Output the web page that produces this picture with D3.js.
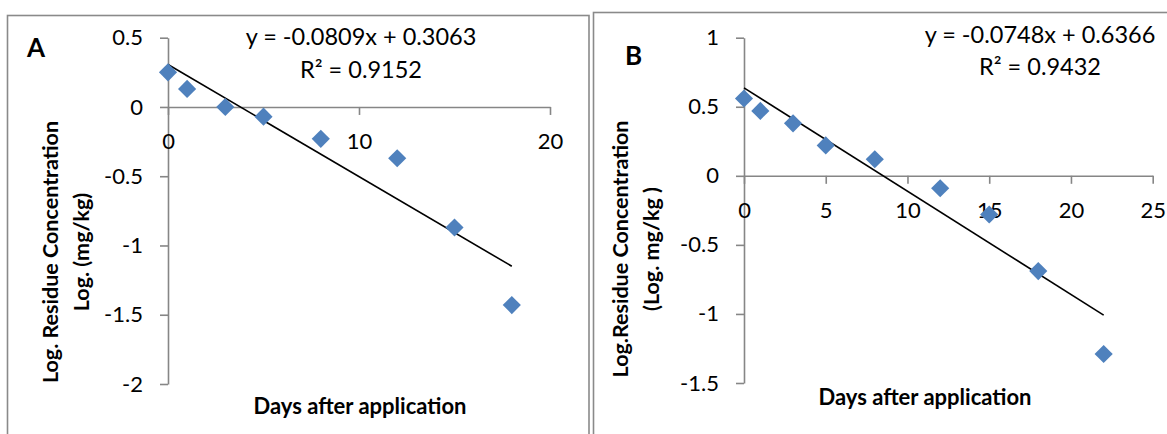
<html>
<meta charset="utf-8" />
<head>
<title>Log residue vs days</title>
<script src="https://cdn.jsdelivr.net/npm/d3@7"></script>
<style>
	body { margin: 0; background: #fff; }
	svg { display: block; font-family: Lato, 'Open Sans', sans-serif; }
</style>
<script>
// panel A
const daysA = [0, 1, 3, 5, 8, 12, 15, 18];
const logResA = [0.25, 0.13, 0.0, -0.07, -0.23, -0.37, -0.87, -1.43];
const trendA = [-0.0809, 0.3063];
const eqA = ['y = -0.0809x + 0.3063', 'R² = 0.9152'];
const xTicksA = [0, 10, 20];
const yTicksA = [0.5, 0, -0.5, -1, -1.5, -2];
const yTitleA = ['Log. Residue Concentration', 'Log. (mg/kg)'];

// panel B
const daysB = [0, 1, 3, 5, 8, 12, 15, 18, 22];
const logResB = [0.56, 0.47, 0.38, 0.22, 0.12, -0.09, -0.28, -0.69, -1.29];
const trendB = [-0.0748, 0.6366];
const eqB = ['y = -0.0748x + 0.6366', 'R² = 0.9432'];
const xTicksB = [0, 5, 10, 15, 20, 25];
const yTicksB = [1, 0.5, 0, -0.5, -1, -1.5];
const yTitleB = ['Log.Residue Concentration', '(Log. mg/kg )'];

const xTitle = 'Days after application';

window.onload = function() {
	const svg = d3.select('svg');

	// frames round the two panels (bottom runs off the picture)
	svg.append('rect').attr('x', 7.5).attr('y', 15.5).attr('width', 581.5).attr('height', 440)
		.attr('fill', 'none').attr('stroke', '#8a8a8a').attr('stroke-width', 1.6);
	svg.append('rect').attr('x', 593.5).attr('y', 12.5).attr('width', 600).attr('height', 440)
		.attr('fill', 'none').attr('stroke', '#8a8a8a').attr('stroke-width', 1.6);

	drawPanel({
		letter: 'A', letterPos: [27, 57],
		days: daysA, res: logResA, trend: trendA, eq: eqA, eqPos: [361, 45, 78],
		xTicks: xTicksA, yTicks: yTicksA,
		xRange: [168, 550], yRange: [37.7, 384],
		yTitle: yTitleA, yTitlePos: [58, 89, 252], xTitlePos: [360, 414]
	});
	drawPanel({
		letter: 'B', letterPos: [625, 65],
		days: daysB, res: logResB, trend: trendB, eq: eqB, eqPos: [1040, 43, 75],
		xTicks: xTicksB, yTicks: yTicksB,
		xRange: [744, 1152.7], yRange: [37.7, 383],
		yTitle: yTitleB, yTitlePos: [628, 659, 249], xTitlePos: [925, 405]
	});

	function drawPanel(p) {
		const g = svg.append('g');
		const x = d3.scaleLinear().domain(d3.extent(p.xTicks)).range(p.xRange);
		const y = d3.scaleLinear().domain(d3.extent(p.yTicks)).range([p.yRange[1], p.yRange[0]]);
		const fmt = d => String(d);   // plain hyphen minus, like Excel

		// y axis, ticks pointing left
		const yAxis = d3.axisLeft(y).tickValues(p.yTicks).tickSize(8).tickSizeOuter(0).tickPadding(17)
			.tickFormat(fmt);
		const gy = g.append('g').attr('transform', `translate(${x(0)},0)`).call(yAxis);

		// x axis sits on y = 0, ticks hanging down
		const xAxis = d3.axisBottom(x).tickValues(p.xTicks).tickSize(8).tickSizeOuter(0).tickFormat(fmt);
		const gx = g.append('g').attr('transform', `translate(0,${y(0)})`).call(xAxis);
		gx.selectAll('text').attr('y', 42).attr('dy', 0);

		[gx, gy].forEach(a => {
			a.select('.domain').attr('stroke', '#868686').attr('stroke-width', 1.6);
			a.selectAll('.tick line').attr('stroke', '#868686').attr('stroke-width', 1.6);
			a.selectAll('text').attr('fill', '#000').style('font-size', '22px').style('font-family', 'Lato, sans-serif');
		});

		// fitted line over the range of the data
		const xs = d3.extent(p.days);
		g.append('line')
			.attr('x1', x(xs[0])).attr('y1', y(p.trend[0] * xs[0] + p.trend[1]))
			.attr('x2', x(xs[1])).attr('y2', y(p.trend[0] * xs[1] + p.trend[1]))
			.attr('stroke', '#000').attr('stroke-width', 1.6);

		// diamonds
		const diamond = d3.symbol(d3.symbolSquare, 165);
		g.selectAll('path.pt')
			.data(p.days.map((d, i) => [d, p.res[i]]))
			.enter()
			.append('path')
			.attr('class', 'pt')
			.attr('d', diamond)
			.attr('transform', d => `translate(${x(d[0])},${y(d[1])}) rotate(45)`)
			.attr('fill', '#4f81bd');

		// equation + r squared
		g.selectAll('text.eq')
			.data(p.eq)
			.enter()
			.append('text')
			.attr('class', 'eq')
			.attr('x', p.eqPos[0])
			.attr('y', (d, i) => p.eqPos[1 + i])
			.attr('text-anchor', 'middle')
			.style('font-size', '23.5px')
			.text(d => d);

		g.append('text')
			.attr('x', p.letterPos[0]).attr('y', p.letterPos[1])
			.style('font-size', '26px').style('font-weight', 'bold')
			.text(p.letter);

		g.append('text')
			.attr('x', p.xTitlePos[0]).attr('y', p.xTitlePos[1])
			.attr('text-anchor', 'middle')
			.style('font-size', '22px').style('font-weight', 'bold')
			.text(xTitle);

		p.yTitle.forEach((t, i) => {
			g.append('text')
				.attr('transform', `translate(${p.yTitlePos[i]},${p.yTitlePos[2]}) rotate(-90)`)
				.attr('text-anchor', 'middle')
				.style('font-size', '21.5px').style('font-weight', 'bold')
				.text(t);
		});
	}
}
</script>
</head>
<body>
<svg width="1167" height="434"></svg>
</body>
</html>
